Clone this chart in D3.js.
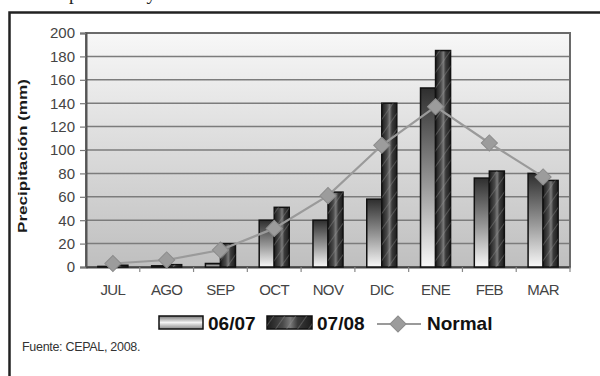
<!DOCTYPE html>
<html>
<head>
<meta charset="utf-8">
<script src="https://cdn.jsdelivr.net/npm/d3@7"></script>
<style>
  html, body { margin: 0; padding: 0; background: #fff; }
  svg { display: block; }
</style>
</head>
<body>
<svg id="chart" width="600" height="376"></svg>
<script>
// Monthly rainfall (mm), July to March
const months = ["JUL", "AGO", "SEP", "OCT", "NOV", "DIC", "ENE", "FEB", "MAR"];
const serie0607 = [0.5, 1, 3, 40, 40, 58, 153, 76, 80];
const serie0708 = [1.5, 2, 20, 51, 64, 140, 185, 82, 74];
const normal = [3, 6, 14.5, 33, 61, 104, 137, 106, 77];
const yTicks = [0, 20, 40, 60, 80, 100, 120, 140, 160, 180, 200];
const seriesNames = ["06/07", "07/08", "Normal"];

const svg = d3.select("#chart");
const defs = svg.append("defs");

const plot = { left: 86, right: 570, top: 33, bottom: 267 };

// Plot background: light at the top, grey at the bottom
const bg = defs.append("linearGradient").attr("id", "bgGrad")
  .attr("x1", 0).attr("y1", 0).attr("x2", 0).attr("y2", 1);
bg.append("stop").attr("offset", "0%").attr("stop-color", "#f7f7f7");
bg.append("stop").attr("offset", "100%").attr("stop-color", "#bfbfbf");

// 06/07 bars: dark top fading to white
const g1 = defs.append("linearGradient").attr("id", "grad0607")
  .attr("x1", 0).attr("y1", 0).attr("x2", 0).attr("y2", 1);
g1.append("stop").attr("offset", "0%").attr("stop-color", "#2e2e2e");
g1.append("stop").attr("offset", "55%").attr("stop-color", "#9a9a9a");
g1.append("stop").attr("offset", "100%").attr("stop-color", "#f8f8f8");

// 06/07 legend swatch: light centre
const g1h = defs.append("linearGradient").attr("id", "grad0607h")
  .attr("x1", 0).attr("y1", 0).attr("x2", 0).attr("y2", 1);
g1h.append("stop").attr("offset", "0%").attr("stop-color", "#777");
g1h.append("stop").attr("offset", "50%").attr("stop-color", "#f4f4f4");
g1h.append("stop").attr("offset", "100%").attr("stop-color", "#888");

// 07/08 bars: dark, cylinder-like highlight
const g2 = defs.append("linearGradient").attr("id", "grad0708")
  .attr("x1", 0).attr("y1", 0).attr("x2", 1).attr("y2", 0);
g2.append("stop").attr("offset", "0%").attr("stop-color", "#1c1c1c");
g2.append("stop").attr("offset", "35%").attr("stop-color", "#4a4a4a");
g2.append("stop").attr("offset", "52%").attr("stop-color", "#7a7a7a");
g2.append("stop").attr("offset", "68%").attr("stop-color", "#3a3a3a");
g2.append("stop").attr("offset", "100%").attr("stop-color", "#1c1c1c");

// diagonal hatching over the 07/08 bars
const hatch = defs.append("pattern").attr("id", "hatch")
  .attr("patternUnits", "userSpaceOnUse")
  .attr("width", 9).attr("height", 9)
  .attr("patternTransform", "rotate(35)");
hatch.append("line").attr("x1", 0).attr("y1", 0).attr("x2", 0).attr("y2", 9)
  .attr("stroke", "#999").attr("stroke-width", 1.2).attr("stroke-opacity", 0.6);

// Page caption above the frame (runs off the top edge)
svg.append("text")
  .attr("x", 69).attr("y", -0.5)
  .attr("font-family", "Liberation Serif, serif")
  .attr("font-size", 19)
  .attr("fill", "#222")
  .text("promedio y");

// Outer frame
svg.append("rect")
  .attr("x", 9.5).attr("y", 12.5)
  .attr("width", 620).attr("height", 400)
  .attr("fill", "#fff")
  .attr("stroke", "#222").attr("stroke-width", 2.5);

// Scales
const x = d3.scaleBand().domain(months).range([plot.left, plot.right]).padding(0);
const xSub = d3.scaleBand().domain(seriesNames.slice(0, 2))
  .range([0, x.bandwidth()]).paddingInner(0).paddingOuter(0.79);
const y = d3.scaleLinear().domain([0, 200]).range([plot.bottom, plot.top]);

// Plot area
svg.append("rect")
  .attr("x", plot.left).attr("y", plot.top)
  .attr("width", plot.right - plot.left).attr("height", plot.bottom - plot.top)
  .attr("fill", "url(#bgGrad)");

// Gridlines
svg.append("g").selectAll("line").data(yTicks.filter(d => d > 0)).join("line")
  .attr("x1", plot.left).attr("x2", plot.right)
  .attr("y1", d => y(d)).attr("y2", d => y(d))
  .attr("stroke", "#7c7c7c").attr("stroke-width", 1.5);

// Plot border
svg.append("rect")
  .attr("x", plot.left).attr("y", plot.top)
  .attr("width", plot.right - plot.left).attr("height", plot.bottom - plot.top)
  .attr("fill", "none").attr("stroke", "#6a6a6a").attr("stroke-width", 2);

// Y axis
const yAxis = svg.append("g")
  .attr("transform", `translate(${plot.left},0)`)
  .call(d3.axisLeft(y).tickValues(yTicks).tickSize(6).tickPadding(5));
yAxis.select(".domain").attr("stroke", "#555").attr("stroke-width", 2);
yAxis.selectAll(".tick line").attr("stroke", "#777").attr("stroke-width", 1.2);
yAxis.selectAll(".tick text")
  .attr("font-family", "Liberation Sans, Arial, sans-serif")
  .attr("font-size", 15).attr("fill", "#444");

// X axis with ticks at category boundaries
const xAxis = svg.append("g")
  .attr("transform", `translate(0,${plot.bottom})`)
  .call(d3.axisBottom(x).tickSize(0).tickPadding(17));
xAxis.select(".domain").attr("stroke", "#444").attr("stroke-width", 2);
xAxis.selectAll(".tick text")
  .attr("font-family", "Liberation Sans, Arial, sans-serif")
  .attr("font-size", 15).attr("fill", "#444")
  .attr("letter-spacing", "-0.6");
svg.append("g").selectAll("line")
  .data(months.slice(1).concat(["end"]))
  .join("line")
  .attr("x1", (d, i) => plot.left + x.step() * (i + 1))
  .attr("x2", (d, i) => plot.left + x.step() * (i + 1))
  .attr("y1", plot.bottom).attr("y2", plot.bottom + 5)
  .attr("stroke", "#888").attr("stroke-width", 1.2);

// Bars
const barData = months.map((m, i) => ({ m, vals: [serie0607[i], serie0708[i]] }));
const groups = svg.append("g").selectAll("g").data(barData).join("g")
  .attr("transform", d => `translate(${x(d.m)},0)`);

groups.append("rect")
  .attr("x", xSub("06/07")).attr("width", xSub.bandwidth())
  .attr("y", d => y(d.vals[0])).attr("height", d => y(0) - y(d.vals[0]))
  .attr("fill", "url(#grad0607)")
  .attr("stroke", "#111").attr("stroke-width", 1.5);

groups.append("rect")
  .attr("x", xSub("07/08")).attr("width", xSub.bandwidth())
  .attr("y", d => y(d.vals[1])).attr("height", d => y(0) - y(d.vals[1]))
  .attr("fill", "url(#grad0708)")
  .attr("stroke", "#111").attr("stroke-width", 1.5);
groups.append("rect")
  .attr("x", xSub("07/08")).attr("width", xSub.bandwidth())
  .attr("y", d => y(d.vals[1])).attr("height", d => y(0) - y(d.vals[1]))
  .attr("fill", "url(#hatch)");

// Normal line with diamond markers
const line = d3.line()
  .x((d, i) => x(months[i]) + x.bandwidth() / 2)
  .y(d => y(d));
svg.append("path").datum(normal)
  .attr("d", line)
  .attr("fill", "none").attr("stroke", "#9a9a9a").attr("stroke-width", 2.2);

const diamond = d3.symbol().type(d3.symbolSquare).size(130);
svg.append("g").selectAll("path").data(normal).join("path")
  .attr("d", diamond)
  .attr("transform", (d, i) => `translate(${x(months[i]) + x.bandwidth() / 2},${y(d)}) rotate(45)`)
  .attr("fill", "#9c9c9c").attr("stroke", "#8c8c8c").attr("stroke-width", 1);

// Y axis title
svg.append("text")
  .attr("transform", `translate(27,${(plot.top + plot.bottom) / 2 + 6}) rotate(-90)`)
  .attr("text-anchor", "middle")
  .attr("font-family", "Liberation Sans, Arial, sans-serif")
  .attr("font-size", 13).attr("font-weight", "bold").attr("fill", "#1a1a1a")
  .attr("textLength", 154).attr("lengthAdjust", "spacingAndGlyphs")
  .text("Precipitación (mm)");

// Legend
const legend = svg.append("g")
  .attr("font-family", "Liberation Sans, Arial, sans-serif")
  .attr("font-weight", "bold").attr("font-size", 19).attr("fill", "#111");

legend.append("rect").attr("x", 159).attr("y", 316).attr("width", 44).attr("height", 13)
  .attr("fill", "url(#grad0607h)").attr("stroke", "#111").attr("stroke-width", 1.5);
legend.append("text").attr("x", 208).attr("y", 330).text(seriesNames[0]);

legend.append("rect").attr("x", 267).attr("y", 316).attr("width", 45).attr("height", 13)
  .attr("fill", "url(#grad0708)").attr("stroke", "#111").attr("stroke-width", 1.5);
legend.append("rect").attr("x", 267).attr("y", 316).attr("width", 45).attr("height", 13)
  .attr("fill", "url(#hatch)");
legend.append("text").attr("x", 317).attr("y", 330).text(seriesNames[1]);

legend.append("line").attr("x1", 377).attr("x2", 421).attr("y1", 324).attr("y2", 324)
  .attr("stroke", "#9a9a9a").attr("stroke-width", 2.2);
legend.append("path").attr("d", diamond)
  .attr("transform", "translate(398,324) rotate(45)")
  .attr("fill", "#9c9c9c").attr("stroke", "#8c8c8c");
legend.append("text").attr("x", 427).attr("y", 330).text(seriesNames[2]);

// Source note
svg.append("text")
  .attr("x", 22).attr("y", 351)
  .attr("font-family", "Liberation Sans, Arial, sans-serif")
  .attr("font-size", 12.5).attr("fill", "#333")
  .attr("letter-spacing", "-0.3")
  .text("Fuente: CEPAL, 2008.");
</script>
</body>
</html>
